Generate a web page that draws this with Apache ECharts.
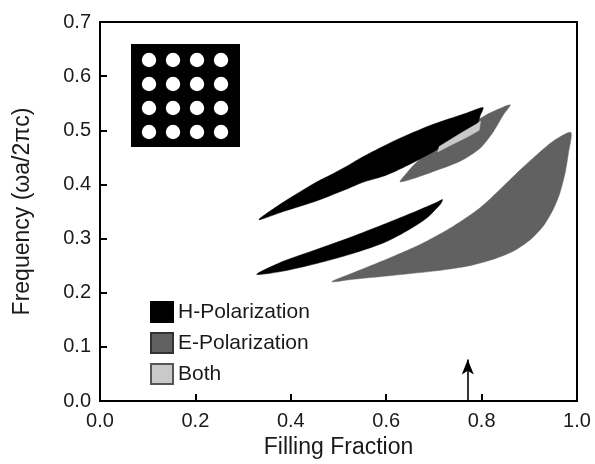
<!DOCTYPE html>
<html>
<head>
<meta charset="utf-8">
<script src="https://cdn.jsdelivr.net/npm/echarts@6/dist/echarts.min.js"></script>
<style>
html,body{margin:0;padding:0;background:#fff;}
#chart{width:595px;height:464px;}
</style>
</head>
<body>
<div id="chart"></div>
<script>
// Tick labels
const xTickLabels = ['0.0','0.2','0.4','0.6','0.8','1.0'];
const yTickLabels = ['0.0','0.1','0.2','0.3','0.4','0.5','0.6','0.7'];

// Gap regions [filling fraction, frequency]
const hUpperBand = [
  [0.333,0.335],[0.384,0.367],[0.455,0.405],[0.482,0.417],[0.524,0.437],[0.551,0.451],
  [0.593,0.470],[0.623,0.483],[0.692,0.509],[0.769,0.532],[0.803,0.542],
  [0.797,0.527],[0.790,0.510],[0.755,0.490],[0.713,0.468],[0.692,0.457],[0.656,0.440],
  [0.623,0.426],[0.593,0.415],[0.551,0.404],[0.524,0.394],[0.455,0.370],[0.384,0.350]
];
const hLowerBand = [
  [0.3285,0.234],[0.384,0.258],[0.454,0.280],[0.524,0.302],[0.594,0.326],[0.664,0.351],
  [0.706,0.367],[0.718,0.372],
  [0.713,0.363],[0.685,0.338],[0.643,0.314],[0.594,0.292],[0.524,0.271],[0.454,0.254],[0.384,0.240]
];
const eUpperBand = [
  [0.860,0.547],[0.846,0.529],[0.825,0.498],[0.797,0.467],[0.755,0.443],[0.699,0.424],
  [0.650,0.409],[0.629,0.405],
  [0.640,0.418],[0.660,0.438],[0.692,0.462],[0.734,0.488],[0.776,0.510],[0.807,0.527],[0.825,0.535]
];
const eLowerBand = [
  [0.486,0.2205],[0.531,0.237],[0.601,0.262],[0.671,0.289],[0.741,0.323],[0.797,0.357],
  [0.839,0.391],[0.881,0.427],[0.916,0.455],[0.950,0.480],[0.987,0.496],
  [0.982,0.458],[0.975,0.421],[0.964,0.384],[0.950,0.354],[0.929,0.323],[0.902,0.298],
  [0.867,0.277],[0.825,0.262],[0.769,0.249],[0.699,0.240],[0.601,0.231],[0.531,0.225]
];
const bothBand = [
  [0.711,0.470],[0.755,0.494],[0.790,0.512],[0.798,0.517],
  [0.795,0.500],[0.769,0.487],[0.734,0.472],[0.708,0.460]
];

// Arrow marking a filling fraction
const arrowX = 0.771;
const arrowTop = 0.077;

const FONT = 'Liberation Sans, Arial, Helvetica, sans-serif';
const TXT = '#1a1a1a';

function polygonSeries(name, polys, fill, stroke, smooth) {
  return {
    type: 'custom',
    name: name,
    coordinateSystem: 'cartesian2d',
    silent: true,
    animation: false,
    itemStyle: { color: fill, borderColor: stroke, borderWidth: 1 },
    data: polys.map((p, i) => [p[0][0], p[0][1], i]),
    encode: { x: 0, y: 1 },
    renderItem: function (params, api) {
      const poly = polys[api.value(2)];
      return {
        type: 'polygon',
        shape: { points: poly.map(pt => api.coord(pt)), smooth: smooth },
        style: { fill: fill, stroke: fill, lineWidth: 0.5 }
      };
    }
  };
}

const chart = echarts.init(document.getElementById('chart'), null, { renderer: 'canvas' });

// Inset: square lattice of holes
const insetChildren = [{ type: 'rect', shape: { x: 0, y: 0, width: 109, height: 103 }, style: { fill: '#000' } }];
for (let r = 0; r < 4; r++) {
  for (let c = 0; c < 4; c++) {
    insetChildren.push({ type: 'circle', shape: { cx: 18 + c * 24, cy: 16 + r * 24, r: 7.2 }, style: { fill: '#fff' } });
  }
}

const option = {
  backgroundColor: '#fff',
  animation: false,
  grid: { left: 100, right: 18, top: 22, bottom: 62, show: true, borderColor: '#000', borderWidth: 2, backgroundColor: 'transparent' },
  legend: {
    data: ['H-Polarization', 'E-Polarization', 'Both'],
    orient: 'vertical',
    left: 150, top: 301,
    padding: 0,
    itemWidth: 22, itemHeight: 20, itemGap: 9, itemTextGap: 14,
    icon: 'rect',
    selectedMode: false,
    textStyle: { fontFamily: FONT, fontSize: 21, color: TXT }
  },
  xAxis: {
    type: 'value', min: 0, max: 1, interval: 0.2,
    axisLine: { show: true, lineStyle: { color: '#000', width: 2 } },
    axisTick: { show: true, inside: true, length: 7, lineStyle: { color: '#000', width: 2 } },
    splitLine: { show: false },
    axisLabel: { fontFamily: FONT, fontSize: 20, color: TXT, margin: 10,
      formatter: v => xTickLabels[Math.round(v / 0.2)] },
    name: 'Filling Fraction', nameLocation: 'middle', nameGap: 33,
    nameTextStyle: { fontFamily: FONT, fontSize: 23, color: TXT }
  },
  yAxis: {
    type: 'value', min: 0, max: 0.7, interval: 0.1,
    axisLine: { show: true, lineStyle: { color: '#000', width: 2 } },
    axisTick: { show: true, inside: true, length: 7, lineStyle: { color: '#000', width: 2 } },
    splitLine: { show: false },
    axisLabel: { fontFamily: FONT, fontSize: 20, color: TXT, margin: 9, padding: [0, 0, 6, 0],
      formatter: v => yTickLabels[Math.round(v / 0.1)] },
    name: 'Frequency (ωa/2πc)', nameLocation: 'middle', nameGap: 66,
    nameTextStyle: { fontFamily: FONT, fontSize: 23, color: TXT }
  },
  graphic: [{ type: 'group', left: 131, top: 44, children: insetChildren }],
  series: [
    polygonSeries('E-Polarization', [eUpperBand, eLowerBand], '#616161', '#333', 0.25),
    polygonSeries('H-Polarization', [hUpperBand, hLowerBand], '#000000', '#000', 0.25),
    polygonSeries('Both', [bothBand], '#c9c9c9', '#555', 0),
    {
      type: 'line', name: 'arrow', data: [], silent: true,
      markLine: {
        silent: true, animation: false,
        symbol: ['none', 'arrow'], symbolSize: [9, 15],
        label: { show: false },
        lineStyle: { color: '#000', width: 1.6, type: 'solid' },
        data: [[{ coord: [arrowX, 0] }, { coord: [arrowX, arrowTop] }]]
      }
    }
  ]
};
chart.setOption(option);
</script>
</body>
</html>
